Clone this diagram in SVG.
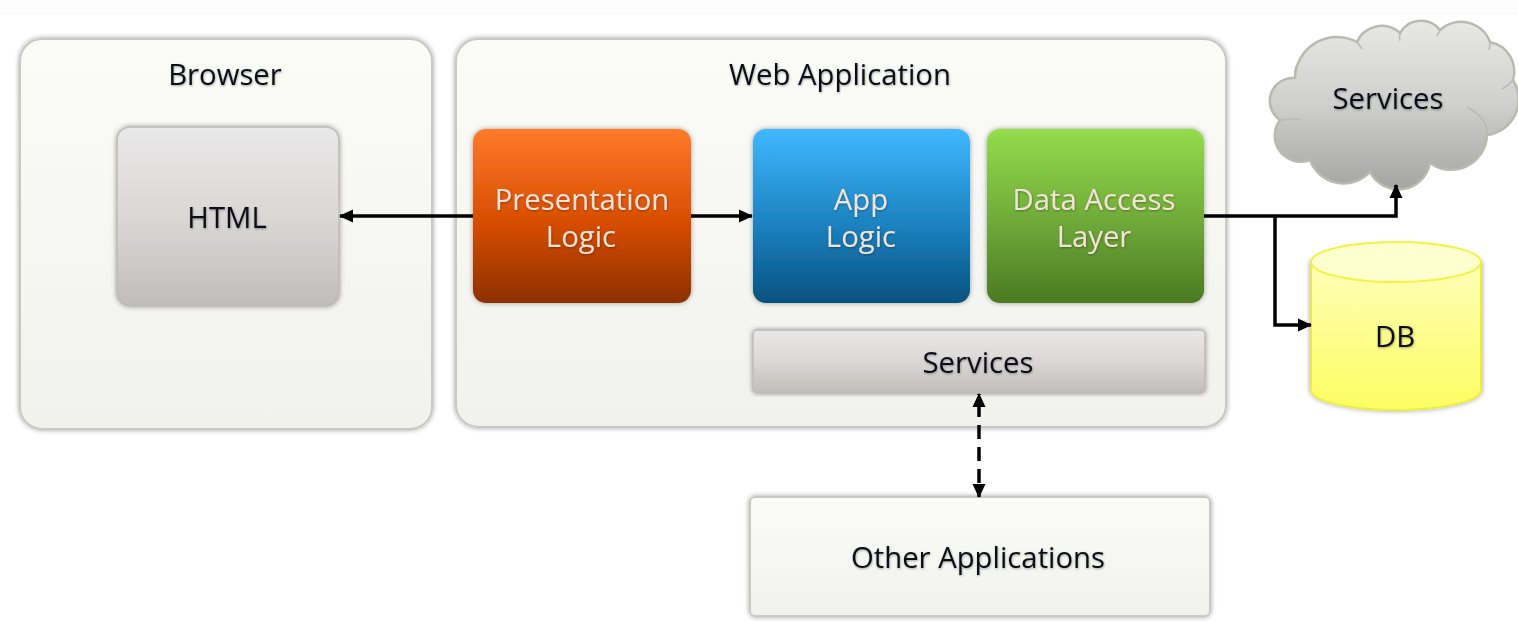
<svg xmlns="http://www.w3.org/2000/svg" width="1518" height="623" viewBox="0 0 1518 623">
<defs>
<linearGradient id="gPanel" x1="0" y1="0" x2="0" y2="1"><stop offset="0" stop-color="#fbfcf8"/><stop offset="1" stop-color="#f1f2ed"/></linearGradient>
<linearGradient id="gGrey" x1="0" y1="0" x2="0" y2="1"><stop offset="0" stop-color="#e9e8e8"/><stop offset="0.5" stop-color="#dad8d7"/><stop offset="1" stop-color="#c0bcb9"/></linearGradient>
<linearGradient id="gOrange" x1="0" y1="0" x2="0" y2="1"><stop offset="0" stop-color="#ff7a2a"/><stop offset="0.55" stop-color="#d64c00"/><stop offset="1" stop-color="#8c3000"/></linearGradient>
<linearGradient id="gBlue" x1="0" y1="0" x2="0" y2="1"><stop offset="0" stop-color="#40b8ff"/><stop offset="0.55" stop-color="#1b82c0"/><stop offset="1" stop-color="#06527f"/></linearGradient>
<linearGradient id="gGreen" x1="0" y1="0" x2="0" y2="1"><stop offset="0" stop-color="#94dc4c"/><stop offset="0.55" stop-color="#6ea838"/><stop offset="1" stop-color="#4a7a22"/></linearGradient>
<linearGradient id="gYellow" x1="0" y1="0" x2="0" y2="1"><stop offset="0" stop-color="#fefeb8"/><stop offset="1" stop-color="#fdfd62"/></linearGradient>
<linearGradient id="gCloud" x1="0" y1="0" x2="0" y2="1"><stop offset="0" stop-color="#e8e8e6"/><stop offset="0.5" stop-color="#cfcfcd"/><stop offset="1" stop-color="#a4a4a2"/></linearGradient>
<filter id="soft" x="-2%" y="-2%" width="104%" height="104%"><feGaussianBlur stdDeviation="0.7"/></filter>
<filter id="shadow" x="-5%" y="-5%" width="110%" height="110%"><feDropShadow dx="0" dy="0" stdDeviation="2.400" flood-color="#000" flood-opacity="0.38"/></filter>
<filter id="tshadow" x="-10%" y="-20%" width="120%" height="140%"><feDropShadow dx="0.5" dy="1" stdDeviation="0.8" flood-color="#000" flood-opacity="0.35"/></filter>
<marker id="ah" viewBox="0 0 14 14" refX="13" refY="7" markerUnits="userSpaceOnUse" markerWidth="14" markerHeight="14" orient="auto-start-reverse"><path d="M0 0.500L14 7L0 13.500Z" fill="#000"/></marker>
</defs>
<style>
text{font-family:"Open Sans","Noto Sans","Liberation Sans",sans-serif;font-size:29.300px;text-anchor:middle;filter:url(#tshadow)}
.d{fill:#0c1118}
.l{fill:#f3e2d6}
.p{stroke:#c8c9c4;stroke-width:2;fill:url(#gPanel);filter:url(#shadow)}
.g{stroke:#bdbbb8;stroke-width:1.500;fill:url(#gGrey);filter:url(#shadow)}
.c{fill:none;stroke:#000;stroke-width:3.500}
</style>
<rect width="1518" height="15" fill="#fcfcfc"/>
<g filter="url(#soft)">
<g id="browser"><rect class="p" x="20" y="39" width="412" height="390" rx="22"/><text class="d" x="225" y="84.500">Browser</text></g>
<g id="web-application"><rect class="p" x="456" y="39" width="770" height="388" rx="22"/><text class="d" x="840" y="84.500">Web Application</text></g>
<g id="html"><rect class="g" x="117" y="127" width="222" height="179" rx="13"/><text class="d" x="227" y="228">HTML</text></g>
<g id="presentation-logic"><rect x="473" y="129" width="218" height="174" rx="13" fill="url(#gOrange)" filter="url(#shadow)"/><text class="l" x="582" y="210">Presentation</text><text class="l" x="581" y="247">Logic</text></g>
<g id="app-logic"><rect x="753" y="129" width="217" height="174" rx="13" fill="url(#gBlue)" filter="url(#shadow)"/><text class="l" x="861" y="210">App</text><text class="l" x="861" y="247">Logic</text></g>
<g id="data-access-layer"><rect x="987" y="129" width="217" height="174" rx="13" fill="url(#gGreen)" filter="url(#shadow)"/><text class="l" x="1094" y="210">Data Access</text><text class="l" x="1094" y="247">Layer</text></g>
<g id="services"><rect class="g" x="753" y="330" width="452" height="63" rx="4"/><text class="d" x="978" y="372.500">Services</text></g>
<g id="other-applications"><rect class="p" x="750" y="497" width="460" height="119" rx="5" stroke="#b5b6b1"/><text class="d" x="978" y="567.500">Other Applications</text></g>
<g id="cloud-services">
<path d="M1295 78A42 42 0 0 1 1357 42A27 27 0 0 1 1400 33A24 24 0 0 1 1440 30A31 31 0 0 1 1490 42A30 30 0 0 1 1513 80A36 36 0 0 1 1487 135A36 36 0 0 1 1430 163A32 32 0 0 1 1370 172A36 36 0 0 1 1310 160A26 26 0 0 1 1280 120A23 23 0 0 1 1295 78Z" fill="url(#gCloud)" stroke="#b9bab2" stroke-width="2.500"/>
<path d="M1280 120Q1291 119 1300 119M1295 78Q1294 72 1296 66M1357 42Q1360 46 1362 49M1400 33Q1399 38 1400 41M1440 30Q1438 34 1437 36M1490 42Q1490 46 1489 50M1513 80Q1508 86 1502 89M1467 107Q1488 118 1487 135" fill="none" stroke="#b9bab2" stroke-width="1.500"/>
<text class="d" x="1388" y="108.500">Services</text></g>
<g id="db">
<path d="M1311 262V390A85 20 0 0 0 1481 390V262Z" fill="url(#gYellow)" stroke="#eded40" stroke-width="2" filter="url(#shadow)"/>
<ellipse cx="1396" cy="262" rx="85" ry="20" fill="#feffce" stroke="#f3f33c" stroke-width="2"/>
<text class="d" x="1395" y="346.500">DB</text></g>
<g id="connectors">
<path class="c" d="M473 216H340" marker-end="url(#ah)"/>
<path class="c" d="M691 216H752" marker-end="url(#ah)"/>
<path class="c" d="M1204 216H1396V185" marker-end="url(#ah)"/>
<path class="c" d="M1275 216V325H1311" marker-end="url(#ah)"/>
<path class="c" d="M979 394V497" stroke-dasharray="14 8" stroke-dashoffset="-9" marker-start="url(#ah)" marker-end="url(#ah)"/>
</g>
</g>
</svg>
